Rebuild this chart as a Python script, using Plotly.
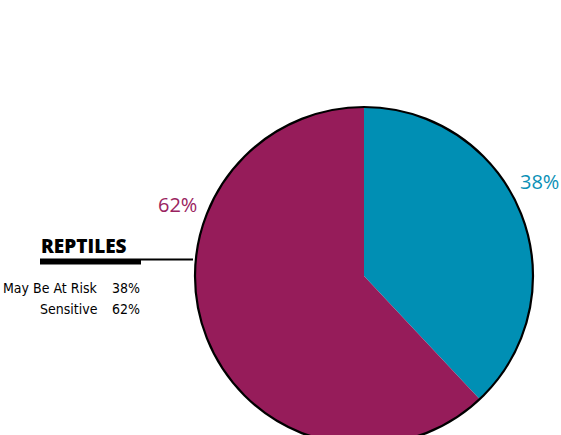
import plotly.graph_objects as go

# Reptile vulnerability shares
title = "REPTILES"
categories = ["May Be At Risk", "Sensitive"]
values = [38, 62]
slice_colors = ["#008fb4", "#961c5a"]
label_colors = ["#0a90b6", "#9a2360"]

W, H = 561, 450


def fx(x):
    return x / W


def fy(y):
    return 1 - y / H


fig = go.Figure()

# pie slices, starting at 12 o'clock and running clockwise
fig.add_trace(go.Pie(
    values=values,
    labels=categories,
    marker=dict(colors=slice_colors, line=dict(width=0)),
    sort=False,
    direction="clockwise",
    rotation=0,
    textinfo="none",
    hoverinfo="label+percent",
    showlegend=False,
    domain=dict(x=[fx(195), fx(533)], y=[fy(445), fy(107)]),
))

# outer black rim (single full slice, transparent fill)
fig.add_trace(go.Pie(
    values=[sum(values)],
    marker=dict(colors=["rgba(0,0,0,0)"], line=dict(color="black", width=2.2)),
    sort=False,
    textinfo="none",
    hoverinfo="skip",
    showlegend=False,
    domain=dict(x=[fx(195), fx(533)], y=[fy(445), fy(107)]),
))

annotations = []

# percentage labels beside the pie
pct_pos = [(539.5, 181), (177.5, 204)]
for v, c, (x, y) in zip(values, label_colors, pct_pos):
    annotations.append(dict(
        x=fx(x), y=fy(y), xref="paper", yref="paper",
        text=f"{v}%", showarrow=False, xanchor="center", yanchor="middle",
        font=dict(family="Open Sans", size=20, color=c),
    ))

# heading
annotations.append(dict(
    x=fx(39), y=fy(246), xref="paper", yref="paper",
    text=title, showarrow=False, xanchor="left", yanchor="middle",
    font=dict(family="Open Sans", size=19, weight=800, color="black"),
))

# legend rows
legend_font = dict(family="DejaVu Sans Condensed, DejaVu Sans", size=14, color="black")
row_y = [288, 309]
for cat, v, y in zip(categories, values, row_y):
    annotations.append(dict(
        x=fx(100), y=fy(y), xref="paper", yref="paper",
        text=cat, showarrow=False, xanchor="right", yanchor="middle",
        font=legend_font,
    ))
    annotations.append(dict(
        x=fx(110), y=fy(y), xref="paper", yref="paper",
        text=f"{v}%", showarrow=False, xanchor="left", yanchor="middle",
        font=legend_font,
    ))

shapes = [
    # thick underline below the heading
    dict(type="rect", xref="paper", yref="paper",
         x0=fx(40), x1=fx(141), y0=fy(264.5), y1=fy(258.5),
         fillcolor="black", line=dict(width=0), layer="above"),
    # leader line to the pie
    dict(type="line", xref="paper", yref="paper",
         x0=fx(141), x1=fx(193), y0=fy(259.5), y1=fy(259.5),
         line=dict(color="black", width=2), layer="below"),
]

fig.update_layout(
    width=W, height=H,
    margin=dict(l=0, r=0, t=0, b=0),
    paper_bgcolor="white",
    plot_bgcolor="white",
    annotations=annotations,
    shapes=shapes,
)

fig.write_html(
    "out.html",
    post_script=(
        "document.documentElement.style.overflow='hidden';"
        "document.body.style.overflow='hidden';"
        "document.body.style.margin='0';"
    ),
)
